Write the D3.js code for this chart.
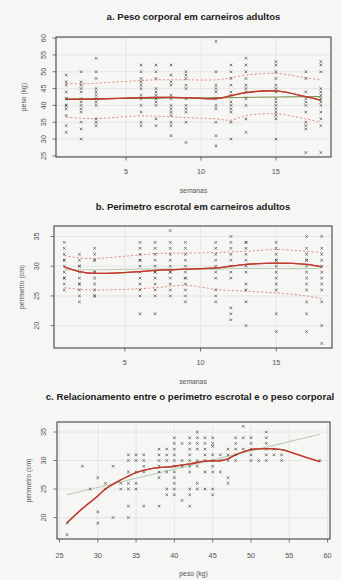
<!DOCTYPE html>
<html><head><meta charset="utf-8">
<script src="https://cdn.jsdelivr.net/npm/d3@7"></script>
<style>
html,body{margin:0;padding:0;background:#f6f6f4;}
svg{display:block;}
text{font-family:"Liberation Sans",Arial,sans-serif;}
</style></head>
<body>
<svg id="chart" width="341" height="580"></svg>
<script>
// ---------- DATA ----------
const weeks = [1,2,3,6,7,8,9,11,12,13,15,17,18];
const weekTicks = [5,10,15];

// a. body weight (kg) per week
const pesoByWeek = [
  [49,47,46,44,42,42,40,40,39,37,34,32],
  [50,47,46,45,44,42,41,40,39,38,35,33,30],
  [54,50,48,45,44,43,42,41,40,36,35,34],
  [52,50,48,47,46,45,43,42,40,38,35,34],
  [52,50,48,45,44,43,42,41,40,36,34],
  [52,49,47,46,43,42,40,39,38,37,35,34,31],
  [50,49,48,46,45,42,40,39,38,35,29],
  [59,50,46,45,44,42,40,39,35,31,28],
  [52,50,48,46,44,43,41,40,39,38,35,30],
  [54,52,50,48,46,45,44,42,40,36,32],
  [53,52,50,48,46,45,44,42,41,40,39,38,37,36,30],
  [50,48,44,42,41,40,38,35,34,33,26],
  [53,52,50,45,44,43,42,41,40,38,36,34,26]
];
const pesoMean  = [41.8,41.8,41.9,42.3,42.4,42.4,42.3,42.0,42.9,43.8,44.3,42.6,41.5];
const pesoUpper = [46.5,46.4,46.6,47.4,47.6,47.6,47.6,47.6,48.2,49.0,49.5,48.2,47.6];
const pesoLower = [36.5,36.2,36.1,36.9,36.8,36.6,36.4,36.0,35.6,37.0,37.5,36.0,35.0];
const pesoLin   = [42.0,42.0,42.0,42.1,42.1,42.2,42.2,42.3,42.3,42.4,42.5,42.6,42.6];
const pesoTicks = [25,30,35,40,45,50,55,60];

// b. scrotal perimeter (cm) per week
const perimByWeek = [
  [34,33,32,31,31,30,29,28,28,27,26],
  [32,31,30,30,29,28,27,27,26,25,24],
  [33,32,31,31,29,29,28,27,26,25,25],
  [34,33,32,31,31,30,29,28,27,26,25,22],
  [34,33,32,31,30,29,29,28,27,26,25,22],
  [36,34,33,32,31,30,29,29,28,27,26,25],
  [34,33,32,31,30,29,28,28,27,26,25,24],
  [34,33,32,31,30,29,28,26,25,24],
  [35,34,33,32,31,30,29,28,23,22,21],
  [34,34,33,32,31,30,29,27,26,24,20],
  [34,33,32,31,31,30,29,28,27,26,22,19],
  [35,33,32,31,31,30,29,28,27,26,24,22,19],
  [35,33,32,31,30,29,28,27,26,24,20,17]
];
const perimMean  = [29.9,29.1,28.8,29.1,29.3,29.4,29.5,29.7,30.0,30.3,30.5,30.3,29.9];
const perimUpper = [31.8,31.4,31.3,31.9,32.1,32.2,32.2,32.3,32.4,32.5,32.8,32.5,32.3];
const perimLower = [26.4,26.1,26.0,26.2,26.4,26.6,26.8,26.1,25.9,25.8,25.5,25.0,24.5];
const perimLin   = [29.4,29.4,29.4,29.5,29.5,29.5,29.5,29.5,29.6,29.6,29.6,29.6,29.7];
const perimTicks = [20,25,30,35];

// c. relationship perimeter vs weight
const relPeso  = [26,26,28,29,30,30,30,31,31,32,32,33,33,
  34,34,34,34,34,34,34, 35,35,35,35,35, 36,36,36,36,36,
  38,38,38,38,38,38,38, 39,39,39,39,39,39,
  40,40,40,40,40,40,40,40,40,40,40, 41,41,41,41,
  42,42,42,42,42,42,42,42,42,42, 43,43,43,43,43,43,43,43,
  44,44,44,44,44,44,44, 45,45,45,45,45,45,45,45,45,
  46,46,46, 47,47,47,47,47, 48,48,48,48,48, 49,49,49,
  50,50,50,50,50, 51, 52,52,52,52,52,52, 53,53, 54,54, 59];
const relPerim = [19,17,29,25,27,21,19,26,25,29,20,25,26,
  31,30,28,26,25,22,20, 31,30,28,26,25, 31,30,29,28,22,
  32,31,30,29,28,27,22, 32,31,30,28,25,24,
  34,33,32,31,30,29,28,27,26,25,24, 33,30,29,23,
  34,33,32,31,30,29,28,25,24,22, 35,34,33,32,30,29,26,25,
  34,33,32,31,30,28,25, 34,33,32.5,31,30,29,28,25,24,
  31,30,28, 32,31,30,27,26, 34,33,32,31,30, 36,34,32,
  34,33,32,31,30, 30, 35,34,33,32,31,30, 32,31, 31,30, 30];
const lowessX = [26,28,30,31,33,35,37,40,42,44,46,47,48,50,52,54,56,59];
const lowessY = [19.1,21.6,23.8,25.0,26.6,27.9,28.6,29.0,29.4,29.9,30.0,30.3,31.0,31.9,32.1,31.9,31.1,29.8];
const linX = [26,59];
const linY = [24.0,34.6];
const relXTicks = [25,30,35,40,45,50,55,60];
const relYTicks = [20,25,30,35];

// ---------- DRAW ----------
const svg = d3.select("#chart");

function rExt(min,max){const d=(max-min)*0.04;return [min-d,max+d];}

function panel(o){
  const g = svg.append("g");
  const x = d3.scaleLinear().domain(o.xDom).range([o.left,o.right]);
  const y = d3.scaleLinear().domain(o.yDom).range([o.bottom,o.top]);
  // grid
  g.selectAll(".gx").data(o.xTicks.filter(t=>x(t)>o.left+1&&x(t)<o.right-1)).enter().append("line")
    .attr("x1",d=>x(d)).attr("x2",d=>x(d)).attr("y1",o.top).attr("y2",o.bottom)
    .attr("stroke","#e0e0e0").attr("stroke-width",0.7);
  g.selectAll(".gy").data(o.yTicks.filter(t=>y(t)>o.top+1&&y(t)<o.bottom-1)).enter().append("line")
    .attr("y1",d=>y(d)).attr("y2",d=>y(d)).attr("x1",o.left).attr("x2",o.right)
    .attr("stroke","#e0e0e0").attr("stroke-width",0.7);
  // lines
  const line = d3.line().x(d=>x(d[0])).y(d=>y(d[1])).curve(d3.curveCatmullRom.alpha(0.5));
  (o.lines||[]).forEach(L=>{
    g.append("path").attr("d",line(L.xs.map((v,i)=>[v,L.ys[i]])))
      .attr("fill","none").attr("stroke",L.color).attr("stroke-width",L.w)
      .attr("stroke-dasharray",L.dash||null).attr("opacity",L.op||1);
  });
  // points
  const s=1.3;
  g.selectAll(".pt").data(o.points).enter().append("path")
    .attr("transform",d=>`translate(${x(d[0])},${y(d[1])})`)
    .attr("d",`M${-s},${-s}L${s},${s}M${-s},${s}L${s},${-s}`)
    .attr("stroke","#333").attr("stroke-width",0.8).attr("opacity",0.8);
  // redraw main line on top
  (o.lines||[]).filter(L=>L.top).forEach(L=>{
    g.append("path").attr("d",line(L.xs.map((v,i)=>[v,L.ys[i]])))
      .attr("fill","none").attr("stroke",L.color).attr("stroke-width",L.w).attr("opacity",0.85);
  });
  // box
  g.append("rect").attr("x",o.left).attr("y",o.top).attr("width",o.right-o.left).attr("height",o.bottom-o.top)
    .attr("fill","none").attr("stroke","#444").attr("stroke-width",1.1);
  // x ticks
  g.selectAll(".xt").data(o.xTicks).enter().append("line")
    .attr("x1",d=>x(d)).attr("x2",d=>x(d)).attr("y1",o.bottom).attr("y2",o.bottom+3.5)
    .attr("stroke","#555").attr("stroke-width",0.8);
  g.selectAll(".xl").data(o.xTicks).enter().append("text")
    .attr("x",d=>x(d)).attr("y",o.xLabY).attr("text-anchor","middle").attr("dominant-baseline","middle")
    .attr("font-size",7.3).attr("fill","#555").text(d=>d);
  // y ticks
  g.selectAll(".yt").data(o.yTicks).enter().append("line")
    .attr("y1",d=>y(d)).attr("y2",d=>y(d)).attr("x1",o.left).attr("x2",o.left-3.5)
    .attr("stroke","#555").attr("stroke-width",0.8);
  g.selectAll(".yl").data(o.yTicks).enter().append("text")
    .attr("transform",d=>`translate(${o.yLabX},${y(d)}) rotate(-90)`)
    .attr("text-anchor","middle").attr("dominant-baseline","middle")
    .attr("font-size",7.3).attr("fill","#555").text(d=>d);
  // titles
  g.append("text").attr("x",o.titleX||(o.left+o.right)/2).attr("y",o.titleY).attr("text-anchor","middle")
    .attr("dominant-baseline","middle").attr("font-size",9.6).attr("font-weight","bold").attr("fill","#222").text(o.title);
  g.append("text").attr("x",(o.left+o.right)/2).attr("y",o.xTitleY).attr("text-anchor","middle")
    .attr("dominant-baseline","middle").attr("font-size",6.8).attr("fill","#555").text(o.xTitle);
  g.append("text").attr("transform",`translate(${o.yTitleX},${(o.top+o.bottom)/2}) rotate(-90)`)
    .attr("text-anchor","middle").attr("dominant-baseline","middle")
    .attr("font-size",6.8).attr("fill","#555").text(o.yTitle);
}

const wkDom = rExt(d3.min(weeks),d3.max(weeks));
const pesoPts = [];
weeks.forEach((w,i)=>pesoByWeek[i].forEach(v=>pesoPts.push([w,v])));
const perimPts = [];
weeks.forEach((w,i)=>perimByWeek[i].forEach(v=>perimPts.push([w,v])));

const RED="#c0392b", PINK="#e0857a", GREEN="#b7cfb0";

panel({
  left:56,right:331,top:37,bottom:157,
  xDom:wkDom, yDom:rExt(26,59),
  xTicks:weekTicks, yTicks:pesoTicks,
  points:pesoPts,
  lines:[
    {xs:weeks,ys:pesoUpper,color:PINK,w:0.9,dash:"2.2,2"},
    {xs:weeks,ys:pesoLower,color:PINK,w:0.9,dash:"2.2,2"},
    {xs:weeks,ys:pesoLin,color:"#8a9a5b",w:1.1},
    {xs:weeks,ys:pesoMean,color:RED,w:1.3,top:true}
  ],
  title:"a. Peso corporal em carneiros adultos", titleY:17,
  xTitle:"semanas", xTitleY:191, yTitle:"peso (kg)", yTitleX:24,
  xLabY:172, yLabX:44
});

panel({
  left:54,right:332,top:226,bottom:348,
  xDom:wkDom, yDom:rExt(17,36),
  xTicks:weekTicks, yTicks:perimTicks,
  points:perimPts,
  lines:[
    {xs:weeks,ys:perimUpper,color:PINK,w:0.9,dash:"2.2,2"},
    {xs:weeks,ys:perimLower,color:PINK,w:0.9,dash:"2.2,2"},
    {xs:weeks,ys:perimLin,color:GREEN,w:1.1},
    {xs:weeks,ys:perimMean,color:RED,w:1.3,top:true}
  ],
  title:"b. Perimetro escrotal em carneiros adultos", titleY:207,
  xTitle:"semanas", xTitleY:382, yTitle:"perimetro (cm)", yTitleX:22,
  xLabY:363, yLabX:37
});

panel({
  left:57,right:330,top:422,bottom:539,
  xDom:rExt(26,59), yDom:rExt(17,36),
  xTicks:relXTicks, yTicks:relYTicks,
  points:relPeso.map((v,i)=>[v,relPerim[i]]),
  lines:[
    {xs:linX,ys:linY,color:GREEN,w:1.1},
    {xs:lowessX,ys:lowessY,color:RED,w:1.3,top:true}
  ],
  title:"c. Relacionamento entre o perimetro escrotal e o peso corporal", titleY:397, titleX:190,
  xTitle:"peso (kg)", xTitleY:574, yTitle:"perimetro (cm)", yTitleX:29,
  xLabY:556, yLabX:44
});
</script>
</body></html>
